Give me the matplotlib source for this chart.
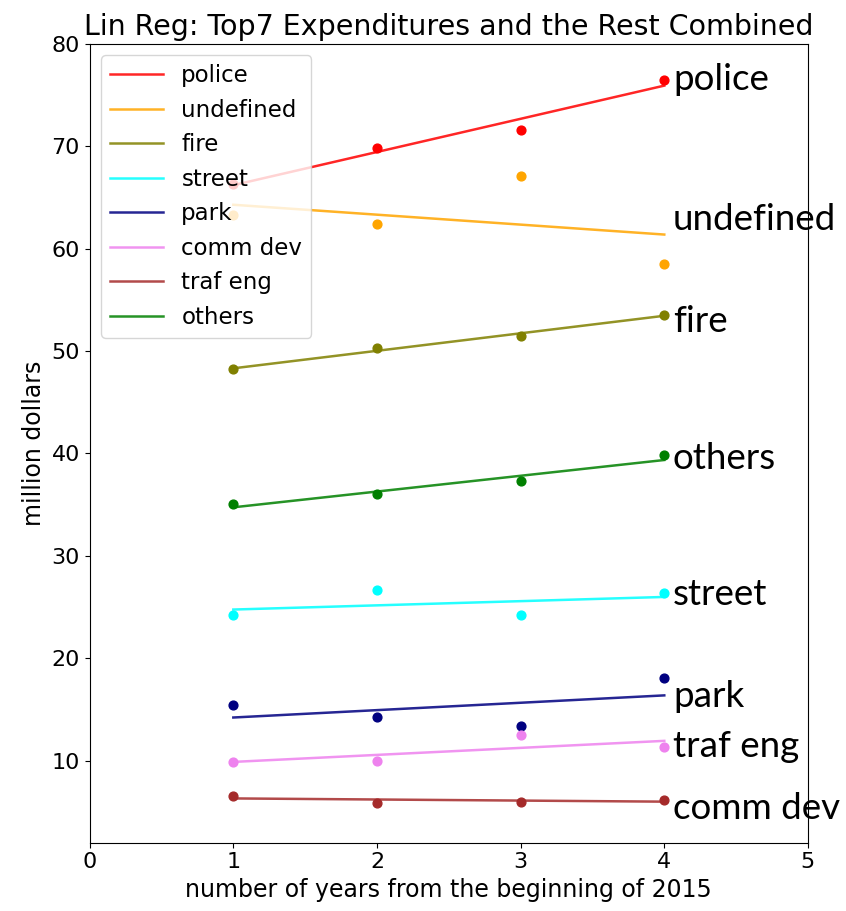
import numpy as np
import matplotlib
matplotlib.use("Agg")
import matplotlib.pyplot as plt

# years since start of 2015
years = [1, 2, 3, 4]

# million dollars
police = [66.3, 69.8, 71.6, 76.5]
undefined = [63.3, 62.4, 67.1, 58.5]
fire = [48.2, 50.3, 51.5, 53.5]
street = [24.2, 26.7, 24.2, 26.4]
park = [15.4, 14.3, 13.4, 18.1]
comm_dev = [9.85, 10.0, 12.5, 11.3]
traf_eng = [6.6, 5.85, 6.0, 6.2]
others = [35.1, 36.0, 37.3, 39.8]

names = ['police', 'undefined', 'fire', 'street', 'park', 'comm dev', 'traf eng', 'others']
series = [police, undefined, fire, street, park, comm_dev, traf_eng, others]
colors = ['red', 'orange', 'olive', 'cyan', 'navy', 'violet', 'brown', 'green']

# labels placed next to the lines (as in the original slide)
side_labels = ['police', 'undefined', 'fire', 'others', 'street', 'park', 'traf eng', 'comm dev']
side_label_y = [76.5, 62.8, 52.9, 39.5, 26.2, 16.3, 11.4, 5.3]

fig = plt.figure(figsize=(8.46, 9.11), dpi=100)
ax = fig.add_axes([0.106, 0.075, 0.849, 0.877])

x = np.array(years)
for name, vals, c in zip(names, series, colors):
    ax.scatter(x, vals, color=c, s=40, zorder=3)
    m, b = np.polyfit(x, vals, 1)
    ax.plot(x, m * x + b, color=c, lw=1.8, alpha=0.85, label=name)

ax.set_xlim(0, 5)
ax.set_ylim(2, 80)
ax.set_xticks([0, 1, 2, 3, 4, 5])
ax.set_yticks([10, 20, 30, 40, 50, 60, 70, 80])
ax.tick_params(labelsize=16)
ax.set_xlabel('number of years from the beginning of 2015', fontsize=17)
ax.set_ylabel('million dollars', fontsize=17)
ax.set_title('Lin Reg: Top7 Expenditures and the Rest Combined', fontsize=20.5)
ax.legend(loc='upper left', fontsize=16.5, handlelength=2.3, labelspacing=0.5)

for lab, yv in zip(side_labels, side_label_y):
    ax.text(4.06, yv, lab, fontsize=26.5, family='Lato', va='center', ha='left',
            clip_on=False, zorder=1)

fig.savefig('out.png', dpi=100)
